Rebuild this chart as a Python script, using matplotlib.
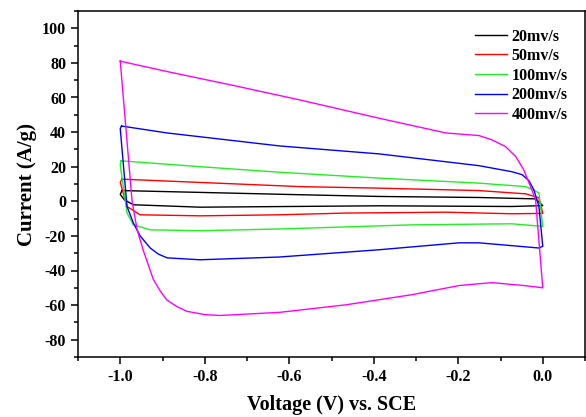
import matplotlib
matplotlib.use("Agg")
import matplotlib.pyplot as plt
from matplotlib.ticker import MultipleLocator

plt.rcParams['font.family'] = ['Liberation Serif', 'DejaVu Serif']
plt.rcParams['font.weight'] = 'bold'
plt.rcParams['axes.unicode_minus'] = False

labels = ["20mv/s", "50mv/s", "100mv/s", "200mv/s", "400mv/s"]
colors = ["#000000", "#ff0000", "#22ee22", "#0000ff", "#ff00ff"]

x20 = [-0.996, -0.575, -0.387, -0.151, -0.017, 0.0, -0.073, -0.387, -0.811, -0.969, -0.99, -1.0, -0.996]
y20 = [6.2, 3.8, 2.8, 2.2, 1.4, -2.5, -3.0, -2.6, -3.4, -2.0, 0.8, 4.0, 6.2]

x50 = [-0.996, -0.811, -0.575, -0.387, -0.151, -0.04, -0.009, 0.0, -0.073, -0.229, -0.465, -0.623, -0.811, -0.953, -0.984, -1.0, -0.996]
y50 = [12.8, 10.9, 8.5, 7.6, 6.2, 4.3, 2.0, -7.0, -7.2, -6.3, -6.8, -7.8, -8.4, -7.8, -3.0, 11.0, 12.8]

x100 = [-0.998, -0.811, -0.623, -0.387, -0.151, -0.04, -0.009, 0.0, -0.073, -0.309, -0.623, -0.811, -0.929, -0.969, -0.984, -1.0, -0.998]
y100 = [23.4, 20.0, 16.8, 13.4, 10.5, 8.5, 4.9, -14.5, -13.0, -13.6, -16.0, -17.0, -16.5, -13.6, -6.7, 21.0, 23.4]

x200 = [-0.997, -0.889, -0.623, -0.387, -0.151, -0.073, -0.049, -0.033, -0.021, -0.009, 0.0, -0.009, -0.151, -0.198,
        -0.387, -0.623, -0.811, -0.889, -0.91, -0.929, -0.953, -0.969, -0.984, -1.0, -0.997]
y200 = [43.5, 39.5, 32.0, 27.4, 20.6, 17.1, 15.4, 12.0, 6.6, -3.0, -26.0, -27.0, -24.0, -24.0,
        -28.0, -32.2, -33.8, -32.7, -30.5, -27.0, -20.0, -12.5, -3.0, 42.0, 43.5]

x400 = [-1.0, -0.889, -0.733, -0.575, -0.387, -0.229, -0.151, -0.12, -0.088, -0.064, -0.045, -0.029, -0.017, 0.0,
        -0.04, -0.12, -0.198, -0.31, -0.465, -0.623, -0.764, -0.8, -0.842, -0.865, -0.89, -0.905, -0.922,
        -0.946, -0.96, -0.972, -1.0]
y400 = [81.0, 75.0, 67.0, 58.6, 48.0, 39.5, 38.0, 35.5, 31.6, 25.9, 18.2, 8.5, 1.0, -50.0,
        -48.8, -47.0, -48.7, -54.0, -59.8, -64.2, -66.0, -65.5, -63.6, -61.0, -57.0, -52.0, -45.0,
        -28.0, -16.5, 0.0, 81.0]

series_x = [x20, x50, x100, x200, x400]
series_y = [y20, y50, y100, y200, y400]

xticks = [-1.0, -0.8, -0.6, -0.4, -0.2, 0.0]
yticks = [-80, -60, -40, -20, 0, 20, 40, 60, 80, 100]

fig = plt.figure(figsize=(5.86, 4.17), dpi=100)
ax = fig.add_axes([78/586, 1 - 357/417, (585 - 78)/586, (357 - 11)/417])

for xs, ys, c, lab in zip(series_x, series_y, colors, labels):
    ax.plot(xs, ys, color=c, lw=1.0, label=lab)

ax.set_xlim(-1.1, 0.1)
ax.set_ylim(-90, 110)
ax.set_xticks(xticks)
ax.set_xticklabels([f"{v:.1f}" for v in xticks])
ax.set_yticks(yticks)
ax.set_yticklabels([str(v) for v in yticks])
ax.xaxis.set_minor_locator(MultipleLocator(0.1))
ax.yaxis.set_minor_locator(MultipleLocator(10))
ax.tick_params(which='both', direction='out', top=False, right=False, labelsize=11.5, width=1.1)
ax.tick_params(which='major', length=5)
ax.tick_params(which='minor', length=3)
for lab in ax.get_xticklabels() + ax.get_yticklabels():
    lab.set_fontweight('bold')
for sp in ax.spines.values():
    sp.set_linewidth(1.1)

ax.set_xlabel("Voltage (V) vs. SCE", fontsize=14.5, fontweight='bold', labelpad=7)
ax.set_ylabel("Current (A/g)", fontsize=15, fontweight='bold', labelpad=4)

leg = ax.legend(loc='upper right', frameon=False, handlelength=2.0,
                handletextpad=0.3, labelspacing=0.22, borderaxespad=0.7,
                prop={'weight': 'bold', 'size': 11.5})

fig.savefig("out.png", dpi=100)
